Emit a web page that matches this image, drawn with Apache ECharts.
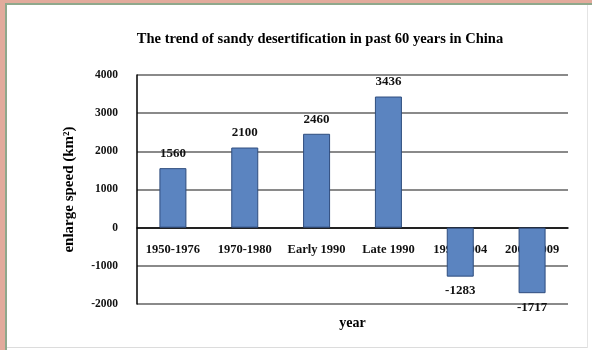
<!DOCTYPE html>
<html>
<head>
<meta charset="utf-8">
<script src="https://cdn.jsdelivr.net/npm/echarts@6/dist/echarts.min.js"></script>
<style>
html,body{margin:0;padding:0;width:592px;height:350px;overflow:hidden;background:#fff;}
#frame{position:absolute;left:0;top:0;width:592px;height:350px;background:#e2ab9c;}
#inner{position:absolute;left:5px;top:3px;width:587px;height:347px;background:#fff;border-left:2px solid #8fa88c;border-top:2px solid #8fa88c;box-sizing:border-box;}
#rline{position:absolute;left:587px;top:5px;width:1px;height:343px;background:#e4e4e4;}
#bline{position:absolute;left:7px;top:347px;width:580px;height:1px;background:#dcdcdc;}
#chart{position:absolute;left:0;top:0;width:592px;height:350px;}
</style>
</head>
<body>
<div id="frame"><div id="inner"></div></div>
<div id="rline"></div><div id="bline"></div>
<div id="chart"></div>
<script>
const titleText = "The trend of sandy desertification in past 60 years in China";
const categories = ["1950-1976", "1970-1980", "Early 1990", "Late 1990", "1999-2004", "2004-2009"];
const values = [1560, 2100, 2460, 3436, -1283, -1717];
const yTicks = [-2000, -1000, 0, 1000, 2000, 3000, 4000];
const yName = "enlarge speed (km²)";
const xName = "year";

const serif = "'Liberation Serif', 'DejaVu Serif', serif";
const chart = echarts.init(document.getElementById('chart'), null, {renderer: 'canvas'});
chart.setOption({
  backgroundColor: 'transparent',
  animation: false,
  title: {
    text: titleText, left: 315, top: 27, textAlign: 'center',
    textStyle: {fontFamily: serif, fontWeight: 'bold', fontSize: 14.5, color: '#000'}
  },
  grid: {left: 137, right: 24, top: 75, bottom: 46, containLabel: false, outerBoundsMode: 'none'},
  xAxis: {
    type: 'category', data: categories, position: 'bottom', offset: -76,
    name: xName, nameLocation: 'middle', nameGap: 88,
    nameTextStyle: {fontFamily: serif, fontWeight: 'bold', fontSize: 14, color: '#000'},
    axisLine: {onZero: false, lineStyle: {color: '#000', width: 1.5}},
    axisTick: {show: false},
    axisLabel: {fontFamily: serif, fontWeight: 'bold', fontSize: 12.5, color: '#111', margin: 15, interval: 0}
  },
  yAxis: {
    type: 'value', min: yTicks[0], max: yTicks[yTicks.length - 1], interval: 1000,
    name: yName, nameLocation: 'middle', nameGap: 60,
    nameTextStyle: {fontFamily: serif, fontWeight: 'bold', fontSize: 15, color: '#000'},
    axisLine: {show: true, lineStyle: {color: '#000', width: 1.5}},
    axisTick: {show: false},
    axisLabel: {fontFamily: serif, fontWeight: 'bold', fontSize: 11.5, color: '#111', margin: 19,
      formatter: v => String(v)},
    splitLine: {show: true, lineStyle: {color: '#8a8a8a', width: 2}}
  },
  series: [{
    type: 'bar', barWidth: 27,
    data: values.map(v => v < 0 ? {value: v, label: {position: 'bottom'}} : v),
    itemStyle: {color: '#5b84c0', borderColor: '#2f4d7e', borderWidth: 1},
    label: {
      show: true, position: 'top', distance: 8,
      fontFamily: serif, fontWeight: 'bold', fontSize: 13, color: '#111',
      formatter: p => String(p.value)
    }
  }]
});
</script>
</body>
</html>
